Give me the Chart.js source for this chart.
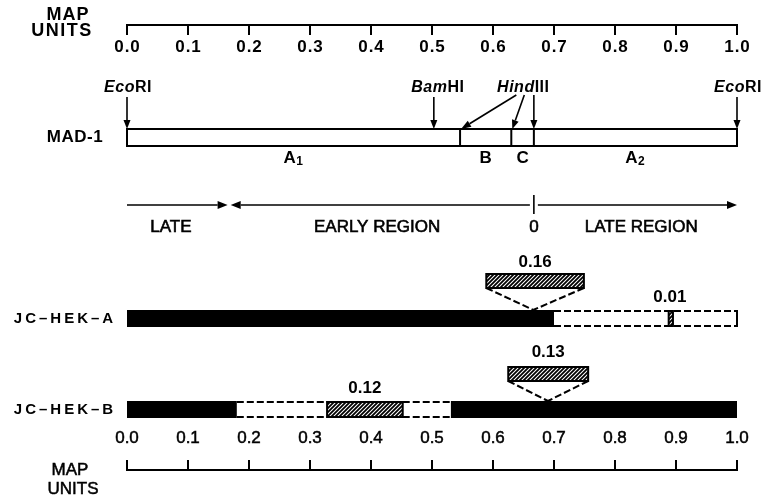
<!DOCTYPE html>
<html>
<head>
<meta charset="utf-8">
<script src="https://cdn.jsdelivr.net/npm/chart.js@4.4.0/dist/chart.umd.min.js"></script>
<style>
  html, body { margin: 0; padding: 0; background: #fff; }
</style>
</head>
<body>
<canvas id="map" width="764" height="498"></canvas>
<script>
// ---- data (map units, 0 - 1) ----
const mapTicks = [0, 0.1, 0.2, 0.3, 0.4, 0.5, 0.6, 0.7, 0.8, 0.9, 1.0];
const mapTickLabels = ['0.0', '0.1', '0.2', '0.3', '0.4', '0.5', '0.6', '0.7', '0.8', '0.9', '1.0'];

const madBounds = [0, 0.546, 0.63, 0.667, 1.0];
const madFragments = ['A', 'B', 'C', 'A'];
const madFragmentSubs = ['1', '', '', '2'];
const ecoSites = [0, 1.0];
const bamSites = [0.503];
const hindSites = [0.546, 0.63, 0.667];

const regionArrowFrom = [0, 0.667, 0.667];
const regionArrowTo = [0.165, 0.17, 1.0];
const regionLabels = ['LATE', 'EARLY REGION', '0', 'LATE REGION'];
const regionLabelAt = [0.072, 0.41, 0.667, 0.843];

const strainNames = ['JC\u2013HEK\u2013A', 'JC\u2013HEK\u2013B'];

// JC-HEK-A
const hekAKeptFrom = [0];
const hekAKeptTo = [0.70];
const hekALostFrom = [0.70];
const hekALostTo = [1.0];
const hekAInsFrom = [0.589];
const hekAInsTo = [0.749];
const hekAInsAt = [0.666];
const hekAInsLabels = ['0.16'];
const hekAFragFrom = [0.888];
const hekAFragTo = [0.895];
const hekAFragLabels = ['0.01'];

// JC-HEK-B
const hekBKeptFrom = [0, 0.531];
const hekBKeptTo = [0.18, 1.0];
const hekBLostFrom = [0.18, 0.452];
const hekBLostTo = [0.328, 0.531];
const hekBInsFrom = [0.625];
const hekBInsTo = [0.756];
const hekBInsAt = [0.69];
const hekBInsLabels = ['0.13'];
const hekBFragFrom = [0.328];
const hekBFragTo = [0.452];
const hekBFragLabels = ['0.12'];

// ---- layout (pixel rows on the y scale) ----
const ROW = {
  axisTop: 25, mad: 129, madH: 17, siteLbl: 88,
  fragLbl: 158, region: 205, regionLbl: 227,
  hekA: 310, hekB: 401, barH: 17,
  insA: 274, insB: 367, insH: 14,
  axisBot: 470
};

const SANS = '"Liberation Sans", Arial, Helvetica, sans-serif';

function segData(from, to, yv) {
  return from.map((f, i) => ({
    type: 'line',
    data: [{ x: f, y: yv }, { x: to[i], y: yv }],
    borderColor: '#000',
    borderWidth: ROW.barH,
    borderCapStyle: 'butt',
    pointRadius: 0,
    showLine: true,
    clip: false
  }));
}

const datasets = [
  ...segData(hekAKeptFrom, hekAKeptTo, ROW.hekA + ROW.barH / 2),
  ...segData(hekBKeptFrom, hekBKeptTo, ROW.hekB + ROW.barH / 2)
];

function hatchPattern(ctx) {
  const c = document.createElement('canvas');
  c.width = 4; c.height = 4;
  const g = c.getContext('2d');
  g.fillStyle = '#fff';
  g.fillRect(0, 0, 4, 4);
  g.strokeStyle = '#000';
  g.lineWidth = 1.8;
  g.beginPath();
  g.moveTo(-1, 5); g.lineTo(5, -1);
  g.moveTo(-1, 1); g.lineTo(1, -1);
  g.moveTo(3, 5); g.lineTo(5, 3);
  g.stroke();
  return ctx.createPattern(c, 'repeat');
}

const mapPlugin = {
  id: 'mapDraw',
  afterDatasetsDraw(chart) {
    const ctx = chart.ctx;
    const X = v => chart.scales.x.getPixelForValue(v);
    const Y = v => chart.scales.y.getPixelForValue(v);
    const hatch = hatchPattern(ctx);

    function text(str, x, y, font, opts = {}) {
      ctx.save();
      ctx.font = font;
      ctx.fillStyle = '#000';
      ctx.textAlign = opts.align || 'center';
      ctx.textBaseline = 'middle';
      ctx.letterSpacing = (opts.spacing || 0) + 'px';
      ctx.fillText(str, x, y);
      if (opts.stroke) {
        ctx.strokeStyle = '#000';
        ctx.lineWidth = opts.stroke;
        ctx.strokeText(str, x, y);
      }
      ctx.restore();
    }
    function parts(list, cx, cy) {
      ctx.save();
      ctx.textBaseline = 'middle';
      ctx.textAlign = 'left';
      ctx.fillStyle = '#000';
      let w = 0;
      list.forEach(p => { ctx.font = p[1]; ctx.letterSpacing = '0.5px'; w += ctx.measureText(p[0]).width; });
      let x = cx - w / 2;
      list.forEach(p => { ctx.font = p[1]; ctx.letterSpacing = '0.5px'; ctx.fillText(p[0], x, cy); x += ctx.measureText(p[0]).width; });
      ctx.restore();
    }
    function line(x1, y1, x2, y2, w, dash) {
      ctx.save();
      ctx.strokeStyle = '#000';
      ctx.lineWidth = w || 2;
      ctx.setLineDash(dash || []);
      ctx.beginPath();
      ctx.moveTo(x1, y1); ctx.lineTo(x2, y2);
      ctx.stroke();
      ctx.restore();
    }
    function arrow(x1, y1, x2, y2, len, half, w) {
      const a = Math.atan2(y2 - y1, x2 - x1);
      const bx = x2 - Math.cos(a) * len, by = y2 - Math.sin(a) * len;
      line(x1, y1, bx, by, w || 1.6);
      ctx.save();
      ctx.fillStyle = '#000';
      ctx.beginPath();
      ctx.moveTo(x2, y2);
      ctx.lineTo(bx + Math.sin(a) * half, by - Math.cos(a) * half);
      ctx.lineTo(bx - Math.sin(a) * half, by + Math.cos(a) * half);
      ctx.closePath();
      ctx.fill();
      ctx.restore();
    }
    function hatchBox(x0, x1, y0, h) {
      ctx.save();
      ctx.fillStyle = hatch;
      ctx.fillRect(x0, y0, x1 - x0, h);
      ctx.strokeStyle = '#000';
      ctx.lineWidth = 2;
      ctx.strokeRect(x0, y0, x1 - x0, h);
      ctx.restore();
    }

    // ---- top axis ----
    const yt = Y(ROW.axisTop);
    line(X(0) - 1, yt, X(1) + 1, yt, 2);
    mapTicks.forEach((t, i) => {
      line(X(t), yt, X(t), yt + 10, 2);
      text(mapTickLabels[i], X(t) + 0.5, yt + 22, 'bold 17px ' + SANS, { spacing: 1 });
    });
    text('MAP', 68, 15, 'bold 18px ' + SANS, { spacing: 1 });
    text('UNITS', 62, 31, 'bold 18px ' + SANS, { spacing: 1.5 });

    // ---- MAD-1 ----
    const ym = Y(ROW.mad);
    ctx.save();
    ctx.strokeStyle = '#000';
    ctx.lineWidth = 2;
    ctx.strokeRect(X(madBounds[0]), ym, X(madBounds[madBounds.length - 1]) - X(madBounds[0]), ROW.madH);
    ctx.restore();
    madBounds.slice(1, -1).forEach(b => line(X(b), ym, X(b), ym + ROW.madH, 2));
    text('MAD-1', 75, ym + ROW.madH / 2, 'bold 17px ' + SANS, { spacing: 0.5 });
    madFragments.forEach((f, i) => {
      const cx = X((madBounds[i] + madBounds[i + 1]) / 2);
      const yl = Y(ROW.fragLbl);
      if (madFragmentSubs[i]) {
        text(f, cx - 4, yl, 'bold 17px ' + SANS);
        text(madFragmentSubs[i], cx + 6, yl + 4, 'bold 12px ' + SANS);
      } else {
        text(f, cx, yl, 'bold 17px ' + SANS);
      }
    });

    // restriction sites
    const ys = Y(ROW.siteLbl);
    ecoSites.forEach(s => {
      parts([['Eco', 'italic bold 16px ' + SANS], ['RI', 'bold 16px ' + SANS]], X(s) + 1, ys);
      arrow(X(s), ys + 9, X(s), ym, 9, 3.5);
    });
    bamSites.forEach(s => {
      parts([['Bam', 'italic bold 16px ' + SANS], ['HI', 'bold 16px ' + SANS]], X(s) + 4, ys);
      arrow(X(s), ys + 9, X(s), ym, 9, 3.5);
    });
    const hx = X(hindSites[1]) + 12;
    parts([['Hind', 'italic bold 16px ' + SANS], ['III', 'bold 16px ' + SANS]], hx, ys);
    arrow(hx - 7, ys + 7, X(hindSites[0]) + 1, ym, 10, 3.5);
    arrow(hx + 1, ys + 7, X(hindSites[1]) + 1, ym, 9, 3.5);
    arrow(X(hindSites[2]), ys + 7, X(hindSites[2]), ym, 9, 3.5);

    // ---- region arrows ----
    const yr = Y(ROW.region);
    regionArrowFrom.forEach((f, i) => {
      const dir = regionArrowTo[i] > f ? 1 : -1;
      const start = X(f) + (f > 0.5 && dir === 1 ? 4 : 0) - (dir === -1 ? 4 : 0);
      arrow(start, yr, X(regionArrowTo[i]), yr, 10, 4, 1.6);
    });
    line(X(0.667), yr - 10, X(0.667), yr + 9, 1.6);
    regionLabels.forEach((l, i) => {
      text(l, X(regionLabelAt[i]), Y(ROW.regionLbl), '17px ' + SANS, { stroke: 0.6 });
    });

    // ---- JC-HEK-A ----
    const ya = Y(ROW.hekA), h = ROW.barH;
    text(strainNames[0], 65, ya + h / 2, 'bold 15px ' + SANS, { spacing: 3 });
    hekALostFrom.forEach((f, i) => {
      line(X(f), ya + 1, X(hekALostTo[i]), ya + 1, 2, [7, 3]);
      line(X(f), ya + h - 1, X(hekALostTo[i]), ya + h - 1, 2, [7, 3]);
      line(X(hekALostTo[i]), ya, X(hekALostTo[i]), ya + h, 2);
    });
    hekAFragFrom.forEach((f, i) => {
      hatchBox(X(f), X(hekAFragTo[i]), ya + 1, h - 2);
      text(hekAFragLabels[i], (X(f) + X(hekAFragTo[i])) / 2 - 1, ya - 13, 'bold 17px ' + SANS);
    });
    hekAInsFrom.forEach((f, i) => {
      const yb = Y(ROW.insA);
      hatchBox(X(f), X(hekAInsTo[i]), yb, ROW.insH);
      line(X(f), yb + ROW.insH, X(hekAInsAt[i]), ya, 2, [7, 3]);
      line(X(hekAInsTo[i]), yb + ROW.insH, X(hekAInsAt[i]), ya, 2, [7, 3]);
      text(hekAInsLabels[i], (X(f) + X(hekAInsTo[i])) / 2, yb - 12, 'bold 17px ' + SANS);
    });

    // ---- JC-HEK-B ----
    const yb2 = Y(ROW.hekB);
    text(strainNames[1], 65, yb2 + h / 2, 'bold 15px ' + SANS, { spacing: 3 });
    hekBLostFrom.forEach((f, i) => {
      line(X(f), yb2 + 1, X(hekBLostTo[i]), yb2 + 1, 2, [7, 3]);
      line(X(f), yb2 + h - 1, X(hekBLostTo[i]), yb2 + h - 1, 2, [7, 3]);
    });
    hekBFragFrom.forEach((f, i) => {
      hatchBox(X(f), X(hekBFragTo[i]), yb2 + 1, h - 2);
      text(hekBFragLabels[i], (X(f) + X(hekBFragTo[i])) / 2, yb2 - 13, 'bold 17px ' + SANS);
    });
    hekBInsFrom.forEach((f, i) => {
      const yb = Y(ROW.insB);
      hatchBox(X(f), X(hekBInsTo[i]), yb, ROW.insH);
      line(X(f), yb + ROW.insH, X(hekBInsAt[i]), yb2, 2, [7, 3]);
      line(X(hekBInsTo[i]), yb + ROW.insH, X(hekBInsAt[i]), yb2, 2, [7, 3]);
      text(hekBInsLabels[i], (X(f) + X(hekBInsTo[i])) / 2, yb - 15, 'bold 17px ' + SANS);
    });

    // ---- bottom axis ----
    const yB = Y(ROW.axisBot);
    line(X(0) - 1, yB, X(1) + 1, yB, 2);
    mapTicks.forEach((t, i) => {
      line(X(t), yB, X(t), yB - 10, 2);
      text(mapTickLabels[i], X(t), yB - 32, '17px ' + SANS, { stroke: 0.5 });
    });
    text('MAP', 70, 470, '17px ' + SANS, { stroke: 0.5 });
    text('UNITS', 73, 489, '17px ' + SANS, { stroke: 0.5 });
  }
};

new Chart(document.getElementById('map'), {
  type: 'scatter',
  data: { datasets: datasets },
  options: {
    responsive: false,
    animation: false,
    devicePixelRatio: 1,
    layout: { padding: { left: 127, right: 27, top: 0, bottom: 0 } },
    plugins: { legend: { display: false }, tooltip: { enabled: false } },
    scales: {
      x: { type: 'linear', min: 0, max: 1, display: false },
      y: { type: 'linear', min: 0, max: 498, reverse: true, display: false }
    }
  },
  plugins: [mapPlugin]
});
</script>
</body>
</html>
